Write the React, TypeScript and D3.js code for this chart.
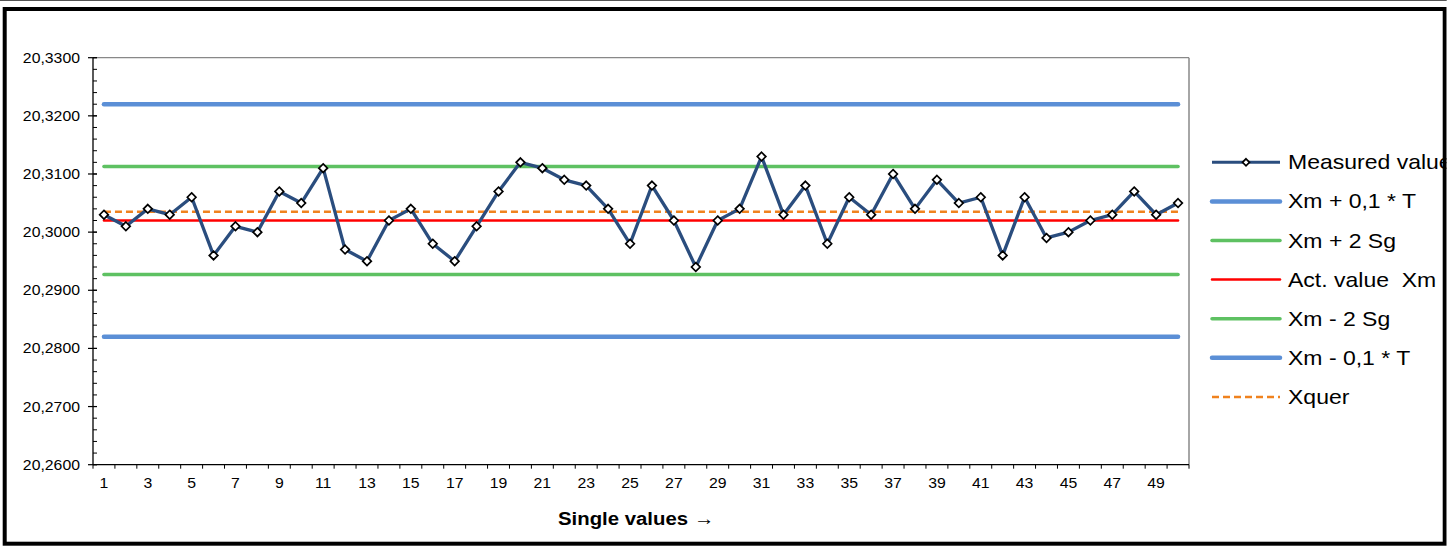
import React from "react";
import * as d3 from "d3";

const categories: number[] = d3.range(1, 51);
const measured: number[] = [
  20.303, 20.301, 20.304, 20.303, 20.306, 20.296, 20.301, 20.300, 20.307, 20.305,
  20.311, 20.297, 20.295, 20.302, 20.304, 20.298, 20.295, 20.301, 20.307, 20.312,
  20.311, 20.309, 20.308, 20.304, 20.298, 20.308, 20.302, 20.294, 20.302, 20.304,
  20.313, 20.303, 20.308, 20.298, 20.306, 20.303, 20.310, 20.304, 20.309, 20.305,
  20.306, 20.296, 20.306, 20.299, 20.300, 20.302, 20.303, 20.307, 20.303, 20.305,
];
const refNames: string[] = ["Xm + 0,1 * T", "Xm + 2 Sg", "Act. value  Xm", "Xm - 2 Sg", "Xm - 0,1 * T", "Xquer"];
const refValues: number[] = [20.322, 20.3113, 20.302, 20.2927, 20.282, 20.3035];
const yTickValues: number[] = [20.26, 20.27, 20.28, 20.29, 20.30, 20.31, 20.32, 20.33];
const measuredName = "Measured value";
const xTitle = "Single values →";

const refStyles = [
  { color: "#5B8FD6", width: 4.5, dash: "" },
  { color: "#5EC162", width: 3.5, dash: "" },
  { color: "#FF0000", width: 2.5, dash: "" },
  { color: "#5EC162", width: 3.5, dash: "" },
  { color: "#5B8FD6", width: 4.5, dash: "" },
  { color: "#F0821E", width: 2.5, dash: "7,4" },
];

const W = 1455, H = 547;
const plot = { left: 93, right: 1189, top: 57.7, bottom: 464.7 };
const SX = 1.13;
const FONT = "'Liberation Sans', Arial, sans-serif";

const fmt = d3.formatLocale({ decimal: ",", thousands: ".", grouping: [3], currency: ["", ""] }).format(".4f");

function SText({ x, y, size, anchor = "start", weight = "normal", sx = SX, children }: any) {
  return (
    <text
      transform={`translate(${x},${y}) scale(${sx},1)`}
      fontFamily={FONT}
      fontSize={size}
      fontWeight={weight}
      textAnchor={anchor}
      fill="#000"
      style={{ whiteSpace: "pre" }}
    >
      {children}
    </text>
  );
}

function Diamond({ cx, cy, r = 4.3 }: { cx: number; cy: number; r?: number }) {
  return (
    <path
      d={`M${cx},${cy - r}L${cx + r},${cy}L${cx},${cy + r}L${cx - r},${cy}Z`}
      fill="#fff"
      stroke="#000"
      strokeWidth={1.7}
    />
  );
}

export default function App() {
  const x = d3.scaleBand<number>().domain(categories).range([plot.left, plot.right]).padding(0);
  const cx = (c: number) => (x(c) as number) + x.bandwidth() / 2;
  const y = d3.scaleLinear().domain([20.26, 20.33]).range([plot.bottom, plot.top]);
  const minor = d3.range(0, 36).map((i) => 20.26 + i * 0.002);
  const xBounds = categories.map((c) => x(c) as number).concat([plot.right]);

  const line = d3
    .line<number>()
    .x((_, i) => cx(categories[i]))
    .y((d) => y(d));

  const legendX1 = 1212, legendX2 = 1280, legendTextX = 1288;
  const legendY0 = 162.3, legendStep = 39.1;

  return (
    <svg width={W} height={H} style={{ position: "absolute", left: 0, top: 0 }}>
      <rect x={0} y={0} width={W} height={H} fill="#fff" />
      <line x1={0} x2={1447} y1={0.5} y2={0.5} stroke="#555" strokeWidth={1} />
      <rect x={4.7} y={9} width={1440} height={534.7} fill="none" stroke="#000" strokeWidth={4} />

      {/* plot frame */}
      <line x1={plot.left} x2={plot.right} y1={plot.top} y2={plot.top} stroke="#888" strokeWidth={1.3} />
      <line x1={plot.right} x2={plot.right} y1={plot.top} y2={plot.bottom} stroke="#888" strokeWidth={1.5} />

      {/* y axis */}
      <line x1={plot.left} x2={plot.left} y1={plot.top} y2={plot.bottom} stroke="#000" strokeWidth={1.3} />
      {minor.map((v, i) => (
        <line key={"mn" + i} x1={plot.left} x2={plot.left + 4} y1={y(v)} y2={y(v)} stroke="#000" strokeWidth={1} />
      ))}
      {yTickValues.map((v) => (
        <g key={"yt" + v}>
          <line x1={plot.left - 5} x2={plot.left + 4} y1={y(v)} y2={y(v)} stroke="#000" strokeWidth={1.2} />
          <SText x={80} y={y(v) + 5} size={14} anchor="end">
            {fmt(v)}
          </SText>
        </g>
      ))}

      {/* x axis */}
      <line x1={plot.left} x2={plot.right} y1={plot.bottom} y2={plot.bottom} stroke="#000" strokeWidth={1.3} />
      {xBounds.map((b, i) => (
        <line key={"xt" + i} x1={b} x2={b} y1={plot.bottom} y2={plot.bottom + 4} stroke="#000" strokeWidth={1} />
      ))}
      {categories
        .filter((c) => c % 2 === 1)
        .map((c) => (
          <SText key={"xl" + c} x={cx(c)} y={488} size={14} anchor="middle">
            {String(c)}
          </SText>
        ))}
      <SText x={636} y={525} size={18.5} anchor="middle" weight="bold" sx={1.1}>
        {xTitle}
      </SText>

      {/* reference lines */}
      {[0, 1, 3, 4, 2, 5].map((i) => (
        <line
          key={"ref" + i}
          x1={cx(categories[0])}
          x2={cx(categories[categories.length - 1])}
          y1={y(refValues[i])}
          y2={y(refValues[i])}
          stroke={refStyles[i].color}
          strokeWidth={refStyles[i].width}
          strokeDasharray={refStyles[i].dash || undefined}
          strokeLinecap={refStyles[i].dash ? "butt" : "round"}
        />
      ))}

      {/* measured series */}
      <path d={line(measured) || ""} fill="none" stroke="#2A4D7E" strokeWidth={3.3} strokeLinejoin="round" />
      {measured.map((v, i) => (
        <Diamond key={"m" + i} cx={cx(categories[i])} cy={y(v)} />
      ))}

      {/* legend */}
      <g>
        <line x1={legendX1} x2={legendX2} y1={legendY0} y2={legendY0} stroke="#2A4D7E" strokeWidth={3} />
        <Diamond cx={(legendX1 + legendX2) / 2} cy={legendY0} r={3.5} />
        <SText x={legendTextX} y={legendY0 + 7} size={20} sx={1.15}>
          {measuredName}
        </SText>
        {refNames.map((n, i) => {
          const ly = legendY0 + legendStep * (i + 1);
          const s = refStyles[i];
          return (
            <g key={"lg" + i}>
              <line
                x1={legendX1}
                x2={legendX2}
                y1={ly}
                y2={ly}
                stroke={s.color}
                strokeWidth={s.width}
                strokeDasharray={s.dash || undefined}
                strokeLinecap={s.dash ? "butt" : "round"}
              />
              <SText x={legendTextX} y={ly + 7} size={20} sx={1.15}>
                {n}
              </SText>
            </g>
          );
        })}
      </g>
      <rect x={1446.7} y={0} width={10} height={H} fill="#fff" />
    </svg>
  );
}
